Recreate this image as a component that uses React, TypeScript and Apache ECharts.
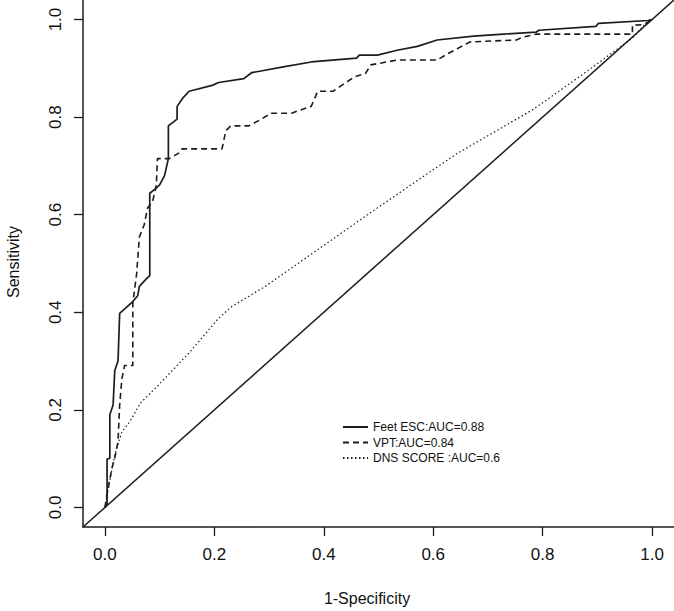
import React, { useEffect, useRef } from "react";
import * as echarts from "echarts";

const tickValues = [0, 0.2, 0.4, 0.6, 0.8, 1.0];

const seriesNames = ["Feet ESC:AUC=0.88", "VPT:AUC=0.84", "DNS SCORE :AUC=0.6"];

const feetEscFpr = [0, 0.004, 0.004, 0.009, 0.009, 0.015, 0.018, 0.024, 0.027, 0.051, 0.06, 0.063, 0.077, 0.082, 0.082, 0.091, 0.1, 0.109, 0.116, 0.116, 0.132, 0.132, 0.143, 0.154, 0.196, 0.208, 0.254, 0.268, 0.326, 0.377, 0.46, 0.465, 0.498, 0.534, 0.571, 0.607, 0.674, 0.728, 0.788, 0.793, 0.897, 0.902, 0.993, 1];
const feetEscTpr = [0, 0.008, 0.099, 0.101, 0.19, 0.21, 0.28, 0.3, 0.398, 0.422, 0.434, 0.453, 0.47, 0.475, 0.644, 0.652, 0.661, 0.68, 0.715, 0.782, 0.796, 0.822, 0.84, 0.853, 0.865, 0.871, 0.879, 0.891, 0.903, 0.913, 0.921, 0.927, 0.927, 0.937, 0.945, 0.958, 0.966, 0.97, 0.974, 0.978, 0.986, 0.992, 0.998, 1];

const vptFpr = [0, 0.005, 0.013, 0.018, 0.024, 0.027, 0.031, 0.036, 0.051, 0.051, 0.058, 0.063, 0.072, 0.078, 0.087, 0.094, 0.096, 0.118, 0.136, 0.141, 0.214, 0.221, 0.23, 0.263, 0.286, 0.304, 0.341, 0.377, 0.389, 0.417, 0.438, 0.457, 0.476, 0.486, 0.534, 0.607, 0.625, 0.667, 0.752, 0.764, 0.788, 0.964, 0.964, 0.987, 1];
const vptTpr = [0, 0.034, 0.081, 0.101, 0.135, 0.21, 0.263, 0.291, 0.291, 0.418, 0.479, 0.554, 0.58, 0.614, 0.626, 0.661, 0.715, 0.715, 0.727, 0.735, 0.735, 0.772, 0.782, 0.782, 0.796, 0.808, 0.808, 0.822, 0.853, 0.853, 0.869, 0.883, 0.889, 0.907, 0.917, 0.917, 0.929, 0.954, 0.958, 0.964, 0.97, 0.97, 0.988, 0.99, 1];

const dnsFpr = [0, 0.009, 0.018, 0.031, 0.045, 0.065, 0.098, 0.154, 0.208, 0.232, 0.293, 0.377, 0.498, 0.643, 0.783, 0.87, 0.964, 0.993, 1];
const dnsTpr = [0, 0.055, 0.108, 0.155, 0.175, 0.214, 0.251, 0.317, 0.388, 0.412, 0.453, 0.519, 0.614, 0.725, 0.816, 0.885, 0.962, 0.998, 1];

const diagonal = [-0.04, 1.04];

const zip = (xs: number[], ys: number[]) => xs.map((x, i) => [x, ys[i]]);

const FONT = "'Liberation Sans', Arial, Helvetica, sans-serif";
const INK = "#1c1c1c";

export default function App() {
  const ref = useRef<HTMLDivElement>(null);

  useEffect(() => {
    if (!ref.current) return;
    const chart = echarts.init(ref.current, undefined, { renderer: "svg" });
    const axisCommon = {
      type: "value" as const,
      min: -0.04,
      max: 1.04,
      splitLine: { show: false },
      axisLine: { show: true, onZero: false, lineStyle: { color: INK, width: 1.5 } },
      axisTick: {
        show: true,
        length: 9,
        customValues: tickValues,
        lineStyle: { color: INK, width: 1.3 },
      },
    };
    chart.setOption({
      animation: false,
      backgroundColor: "#ffffff",
      grid: { left: 83, top: -7.6, width: 596, height: 534.6, containLabel: false },
      xAxis: {
        ...axisCommon,
        axisLabel: {
          customValues: tickValues,
          formatter: (v: number) => v.toFixed(1),
          margin: 19,
          fontSize: 17,
          fontFamily: FONT,
          color: "#111",
        },
      },
      yAxis: {
        ...axisCommon,
        axisLabel: {
          customValues: tickValues,
          formatter: (v: number) => v.toFixed(1),
          rotate: 90,
          margin: 19,
          fontSize: 17,
          fontFamily: FONT,
          color: "#111",
        },
      },
      legend: {
        show: true,
        orient: "vertical",
        left: 337,
        top: 415,
        itemWidth: 25,
        itemHeight: 14,
        itemGap: 1.5,
        data: seriesNames,
        itemStyle: { opacity: 0, borderWidth: 0 },
        lineStyle: { color: INK, opacity: 1 },
        textStyle: { fontSize: 12, fontFamily: FONT, color: "#111", lineHeight: 14 },
      },
      graphic: [
        {
          type: "text",
          x: 367,
          y: 598,
          style: {
            text: "1-Specificity",
            fontSize: 16,
            fontFamily: FONT,
            fill: "#111",
            textAlign: "center",
            textVerticalAlign: "middle",
          },
        },
        {
          type: "text",
          x: 13,
          y: 262,
          rotation: Math.PI / 2,
          style: {
            text: "Sensitivity",
            fontSize: 16,
            fontFamily: FONT,
            fill: "#111",
            textAlign: "center",
            textVerticalAlign: "middle",
          },
        },
      ],
      series: [
        {
          name: "diagonal",
          type: "line",
          data: zip(diagonal, diagonal),
          symbol: "none",
          silent: true,
          lineStyle: { color: INK, width: 1.5, type: "solid" },
        },
        {
          name: seriesNames[0],
          type: "line",
          data: zip(feetEscFpr, feetEscTpr),
          symbol: "none",
          lineStyle: { color: INK, width: 1.7, type: "solid" },
          itemStyle: { color: INK },
        },
        {
          name: seriesNames[1],
          type: "line",
          data: zip(vptFpr, vptTpr),
          symbol: "none",
          lineStyle: { color: INK, width: 1.6, type: [6, 4] },
          itemStyle: { color: INK },
        },
        {
          name: seriesNames[2],
          type: "line",
          data: zip(dnsFpr, dnsTpr),
          symbol: "none",
          lineStyle: { color: INK, width: 1.2, type: [1.5, 2.5] },
          itemStyle: { color: INK },
        },
      ],
    });
    return () => chart.dispose();
  }, []);

  return (
    <div
      ref={ref}
      style={{ position: "absolute", left: 0, top: 0, width: 674, height: 611, background: "#fff" }}
    />
  );
}
